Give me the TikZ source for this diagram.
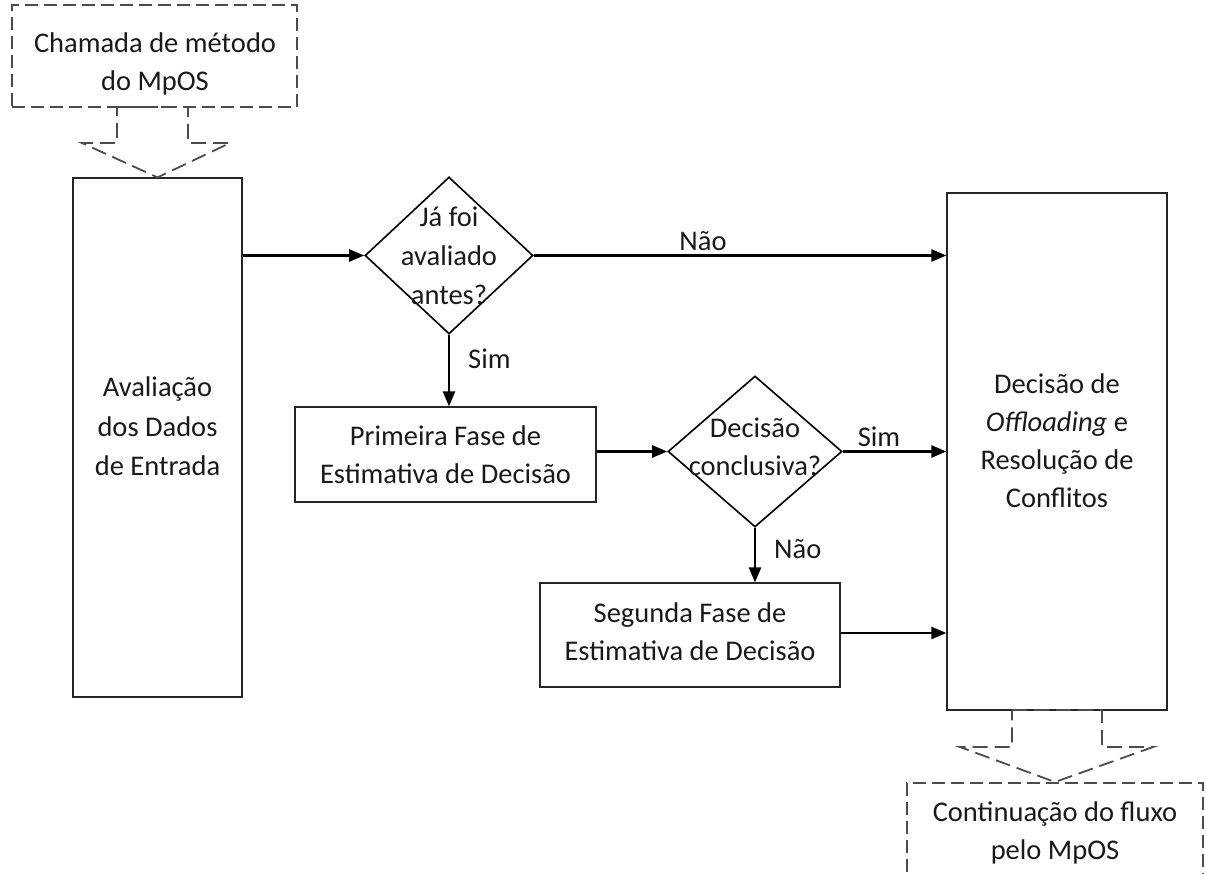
\documentclass[tikz,border=0pt]{standalone}
\usepackage{fontspec}
\setmainfont{Carlito}
\usetikzlibrary{shapes.geometric,arrows.meta}
\begin{document}
\begin{tikzpicture}[x=1pt,y=-1pt,
  every node/.style={font=\fontsize{28.5}{38}\selectfont, text=black!90},
  box/.style={draw=black!85, line width=1.2pt, rectangle, align=center, inner sep=0pt},
  dashbox/.style={draw=black!70, line width=1.8pt, dash pattern=on 13pt off 6pt, align=center, inner sep=0pt},
  dia/.style={draw=black, line width=1.6pt, diamond, inner sep=0pt},
  lbl/.style={align=center, inner sep=0pt},
  arr/.style={line width=2.4pt, -{Triangle[length=15pt,width=12pt]}},
  blockarrow/.style={draw=black!70, line width=1.8pt, dash pattern=on 15pt off 7pt, line join=miter}
]
\useasboundingbox (0,0) rectangle (1206,874);
\clip (0,0) rectangle (1206,874);

% call from the MpOS and its hand-off into the first stage
\node[dashbox, minimum width=285pt, minimum height=102pt] (call) at (154.5,56) {};
\node[lbl] at (155,64) {Chamada de método\\do MpOS};
\node[box, minimum width=169pt, minimum height=519pt] (eval) at (157.5,437.5) {};
\node[lbl] at (157.5,426.5) {Avaliação\\[1.5pt]dos Dados\\[1.5pt]de Entrada};
\draw[blockarrow] (117,107) -- (188,107) -- (188,143) -- (230,143) -- (eval.north) -- (82,143) -- (117,143) -- cycle;

% first decision
\node[dia, minimum width=168pt, minimum height=157pt] (seen) at (449,255.5) {};
\node[lbl] at ([yshift=-0.5pt]seen) {Já foi\\[1pt]avaliado\\[1pt]antes?};

% estimation phases
\node[box, minimum width=301pt, minimum height=95pt] (phase1) at (445.5,454.5) {Primeira Fase de\\Estimativa de Decisão};
\node[dia, minimum width=174pt, minimum height=151pt] (concl) at (755,451.5) {};
\node[lbl] at ([yshift=5pt]concl) {Decisão\\conclusiva?};
\node[box, minimum width=300pt, minimum height=104pt] (phase2) at (690,635) {};
\node[lbl] at (690,632) {Segunda Fase de\\Estimativa de Decisão};

% offloading decision
\node[box, minimum width=220pt, minimum height=517pt] (offl) at (1057,451.5) {};
\node[lbl] at (1057,441) {Decisão de\\\textit{Offloading} e\\Resolução de\\Conflitos};

% continuation of the flow
\node[dashbox, minimum width=296pt, minimum height=130pt, anchor=north] (cont) at (1055,782) {};
\node[lbl] at (1055,833) {Continuação do fluxo\\pelo MpOS};
\draw[blockarrow] (1012,710) -- (1102,710) -- (1102,747) -- (1153,747) -- (cont.north) -- (960,747) -- (1012,747) -- cycle;

% connectors
\draw[arr] (eval.east |- seen.west) -- (seen.west);
\draw[arr] (seen.east) -- node[pos=0.41, anchor=south, inner sep=0pt, yshift=4pt] {Não} (offl.west |- seen.east);
\draw[arr] (seen.south) -- node[pos=0.33, anchor=west, inner sep=0pt, xshift=18pt] {Sim} (phase1.north -| seen.south);
\draw[arr] (phase1.east |- concl.west) -- (concl.west);
\draw[arr] (concl.east) -- node[pos=0.35, anchor=south, inner sep=0pt, yshift=4pt] {Sim} (offl.west |- concl.east);
\draw[arr] (concl.south) -- node[pos=0.39, anchor=west, inner sep=0pt, xshift=18pt] {Não} (phase2.north -| concl.south);
\draw[arr] (phase2.east |- 0,633) -- (offl.west |- 0,633);
\end{tikzpicture}
\end{document}
